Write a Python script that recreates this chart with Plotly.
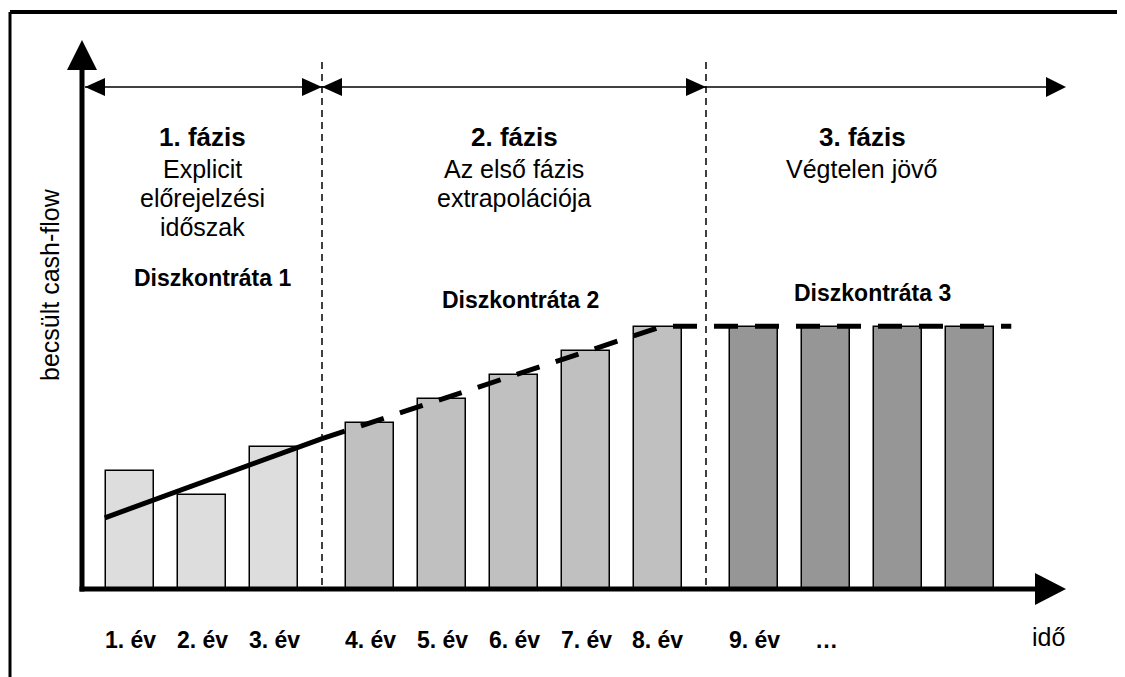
import plotly.graph_objects as go

# ---------------- data ----------------
cash_flow = [5, 4, 6, 7, 8, 9, 10, 11, 11, 11, 11, 11]
bar_phase = [1, 1, 1, 2, 2, 2, 2, 2, 3, 3, 3, 3]
tick_labels = ["1. év", "2. év", "3. év", "4. év", "5. év", "6. év",
               "7. év", "8. év", "9. év", "…"]
phase_titles = ["1. fázis", "2. fázis", "3. fázis"]
phase_desc = [["Explicit", "előrejelzési", "időszak"],
              ["Az első fázis", "extrapolációja"],
              ["Végtelen jövő"]]
discount_labels = ["Diszkontráta 1", "Diszkontráta 2", "Diszkontráta 3"]
trend_solid_x = [0.65, 3.667]
trend_solid_y = [3.05, 6.35]
trend_dash_x = [3.667, 8.4, 13.24]
trend_dash_y = [6.35, 11.03, 11.03]
y_title = "becsült cash-flow"
x_title = "idő"

# ---------------- layout constants ----------------
W, H = 1125, 677
OFF = 8                     # page body margin (screen px = figure px + OFF)
PX0, SLOT = 58, 72          # screen pixel of x=0, pixels per slot
Y0PX, UNIT = 591, 24        # screen pixel of y=0, pixels per unit
FONT = "Liberation Sans, Arial, sans-serif"
phase_colors = {1: "#DDDDDD", 2: "#C0C0C0", 3: "#969696"}
disc_pos = [(10, 278), (6, 300), (10, 293)]   # (x shift, y) of discount labels

xpos = [i + 1 + (p - 1) / 3 for i, p in enumerate(bar_phase)]


def xpx(x):
    return PX0 + SLOT * x


def px(x):      # screen pixel -> paper x
    return (x - OFF) / W


def py(y):      # screen pixel -> paper y
    return 1 - (y - OFF) / H


fig = go.Figure()
fig.add_trace(go.Bar(
    x=xpos, y=cash_flow, width=48 / SLOT,
    marker=dict(color=[phase_colors[p] for p in bar_phase],
                line=dict(color="black", width=1.5)),
    showlegend=False, hoverinfo="skip"))
fig.add_trace(go.Scatter(x=trend_solid_x, y=trend_solid_y, mode="lines",
                         line=dict(color="black", width=5), showlegend=False))
fig.add_trace(go.Scatter(x=trend_dash_x, y=trend_dash_y, mode="lines",
                         line=dict(color="black", width=5, dash="24px,17px"),
                         showlegend=False))

shapes = []
ann = []

# outer frame (top and left)
shapes.append(dict(type="line", xref="paper", yref="paper", x0=px(10), x1=1.01,
                   y0=py(12), y1=py(12), line=dict(color="black", width=4)))
shapes.append(dict(type="line", xref="paper", yref="paper", x0=px(10), x1=px(10),
                   y0=py(12), y1=-0.01, line=dict(color="black", width=3)))

# axes
axis_x = 82
axis_y = 589
shapes.append(dict(type="line", xref="paper", yref="paper", x0=px(axis_x), x1=px(axis_x),
                   y0=py(axis_y + 2.5), y1=py(68), line=dict(color="black", width=5)))
shapes.append(dict(type="line", xref="paper", yref="paper", x0=px(axis_x - 2.5), x1=px(1040),
                   y0=py(axis_y), y1=py(axis_y), line=dict(color="black", width=5)))


def tri(points):
    p = "M " + " L ".join(f"{px(a)},{py(b)}" for a, b in points) + " Z"
    return dict(type="path", xref="paper", yref="paper", path=p,
                fillcolor="black", line=dict(color="black", width=0))


shapes.append(tri([(axis_x, 40), (axis_x - 15, 70), (axis_x + 15, 70)]))
shapes.append(tri([(1066, axis_y), (1035, axis_y - 16), (1035, axis_y + 16)]))

# phase boundaries
bounds = []
for i in range(len(xpos) - 1):
    if bar_phase[i] != bar_phase[i + 1]:
        bounds.append((xpx(xpos[i]) + xpx(xpos[i + 1])) / 2)
for b in bounds:
    shapes.append(dict(type="line", xref="paper", yref="paper", x0=px(b), x1=px(b),
                       y0=py(62), y1=py(588),
                       line=dict(color="black", width=1.5, dash="7px,5px")))

# top arrows
AY = 87
arrow_ends = [axis_x + 3] + bounds + [1066]
shapes.append(dict(type="line", xref="paper", yref="paper", x0=px(arrow_ends[0]), x1=px(arrow_ends[-1] - 15),
                   y0=py(AY), y1=py(AY), line=dict(color="black", width=1.5)))
for k in range(len(arrow_ends) - 1):
    a, b = arrow_ends[k], arrow_ends[k + 1]
    if k < len(arrow_ends) - 2:
        shapes.append(tri([(a, AY), (a + 20, AY - 9), (a + 20, AY + 9)]))
        shapes.append(tri([(b, AY), (b - 20, AY - 9), (b - 20, AY + 9)]))
    else:
        shapes.append(tri([(b, AY), (b - 20, AY - 10), (b - 20, AY + 10)]))

# phase texts
for k in range(3):
    members = [xpx(x) for x, p in zip(xpos, bar_phase) if p == k + 1]
    cx = (min(members) + max(members)) / 2
    ann.append(dict(x=px(cx), y=py(137), text=f"<b>{phase_titles[k]}</b>",
                    font=dict(size=26, family=FONT, color="black")))
    for j, line in enumerate(phase_desc[k]):
        ann.append(dict(x=px(cx), y=py(169 + 29 * j), text=line,
                        font=dict(size=25, family=FONT, color="black")))
    dx, dy = disc_pos[k]
    ann.append(dict(x=px(cx + dx), y=py(dy), text=f"<b>{discount_labels[k]}</b>",
                    font=dict(size=23, family=FONT, color="black")))

# tick labels
for x, lab in zip(xpos, tick_labels):
    ann.append(dict(x=px(xpx(x)), y=py(640), text=f"<b>{lab}</b>",
                    font=dict(size=23, family=FONT, color="black")))
ann.append(dict(x=px(1048), y=py(637), text=x_title,
                font=dict(size=25, family=FONT, color="black")))
ann.append(dict(x=px(50), y=py(285), text=y_title, textangle=-90,
                font=dict(size=25, family=FONT, color="black")))

for a in ann:
    a.update(xref="paper", yref="paper", showarrow=False,
             xanchor="center", yanchor="middle")

fig.update_layout(
    width=W, height=H, margin=dict(l=0, r=0, t=0, b=0),
    paper_bgcolor="white", plot_bgcolor="white",
    xaxis=dict(range=[(OFF - PX0) / SLOT, (W + OFF - PX0) / SLOT], visible=False, fixedrange=True),
    yaxis=dict(range=[(Y0PX - H - OFF) / UNIT, (Y0PX - OFF) / UNIT], visible=False, fixedrange=True),
    shapes=shapes, annotations=ann, bargap=0, showlegend=False,
)
fig.write_html("out.html")
